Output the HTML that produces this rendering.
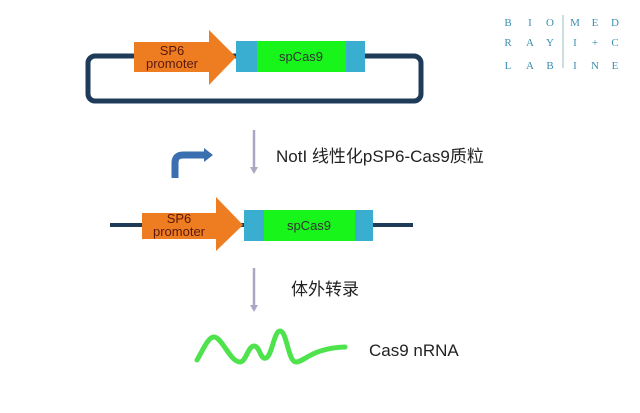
<!DOCTYPE html>
<html><head><meta charset="utf-8"><style>
body{margin:0;background:#fff;}
svg{display:block}
</style></head><body>
<svg width="640" height="413" viewBox="0 0 640 413" xmlns="http://www.w3.org/2000/svg">
<rect width="640" height="413" fill="#fff"/>
<rect x="88" y="56" width="333" height="45" rx="7" fill="none" stroke="#1f3b5a" stroke-width="5"/>
<polygon points="134,42 209,42 209,30 236,57 209,85 209,72 134,72" fill="#ee7d22"/>
<text x="172" y="55" font-family="Liberation Sans, sans-serif" font-size="13" fill="#5a1a10" text-anchor="middle">SP6</text>
<text x="172" y="68" font-family="Liberation Sans, sans-serif" font-size="13" fill="#5a1a10" text-anchor="middle">promoter</text>
<rect x="236" y="41" width="21" height="31" fill="#3aaed0"/>
<rect x="257" y="41" width="89" height="31" fill="#17f51b"/>
<rect x="346" y="41" width="19" height="31" fill="#3aaed0"/>
<text x="301" y="61" font-family="Liberation Sans, sans-serif" font-size="13" fill="#333" text-anchor="middle">spCas9</text>
<g font-family="Liberation Serif, serif" font-size="11" fill="#3a8fb0" text-anchor="middle">
<text x="508" y="26">B</text><text x="530" y="26">I</text><text x="550" y="26">O</text>
<text x="575" y="26">M</text><text x="595" y="26">E</text><text x="615" y="26">D</text>
<text x="508" y="46">R</text><text x="530" y="46">A</text><text x="550" y="46">Y</text>
<text x="575" y="46">I</text><text x="595" y="46">+</text><text x="615" y="46">C</text>
<text x="508" y="69">L</text><text x="530" y="69">A</text><text x="550" y="69">B</text>
<text x="575" y="69">I</text><text x="595" y="69">N</text><text x="615" y="69">E</text>
</g>
<line x1="563" y1="15" x2="563" y2="68" stroke="#9bb" stroke-width="1"/>
<line x1="254" y1="130" x2="254" y2="168" stroke="#a9a8c4" stroke-width="2.5"/>
<polygon points="250,167 258,167 254,174" fill="#a9a8c4"/>
<text x="276" y="162" font-family="Liberation Sans, 'Noto Sans CJK SC', sans-serif" font-size="17" fill="#222">NotI 线性化pSP6-Cas9质粒</text>
<path d="M175,178 L175,163 Q175,155 183,155 L206,155" fill="none" stroke="#3a6fb0" stroke-width="7"/>
<polygon points="204,148 213,155 204,162" fill="#3a6fb0"/>
<line x1="110" y1="225" x2="413" y2="225" stroke="#1f3b5a" stroke-width="4"/>
<polygon points="142,213 216,213 216,197 243,225 216,251 216,239 142,239" fill="#ee7d22"/>
<text x="179" y="223" font-family="Liberation Sans, sans-serif" font-size="13" fill="#5a1a10" text-anchor="middle">SP6</text>
<text x="179" y="236" font-family="Liberation Sans, sans-serif" font-size="13" fill="#5a1a10" text-anchor="middle">promoter</text>
<rect x="244" y="210" width="20" height="31" fill="#3aaed0"/>
<rect x="264" y="210" width="91" height="31" fill="#17f51b"/>
<rect x="355" y="210" width="18" height="31" fill="#3aaed0"/>
<text x="309" y="230" font-family="Liberation Sans, sans-serif" font-size="13" fill="#333" text-anchor="middle">spCas9</text>
<line x1="254" y1="268" x2="254" y2="306" stroke="#a9a8c4" stroke-width="2.5"/>
<polygon points="250,305 258,305 254,312" fill="#a9a8c4"/>
<text x="291" y="295" font-family="Liberation Sans, 'Noto Sans CJK SC', sans-serif" font-size="17" fill="#222">体外转录</text>
<path d="M197,360 C203,350 208,337 214,337 C222,337 230,362 240,362 C246,362 248,346 254,346 C260,346 260,360 266,358 C272,356 274,331 280,331 C287,331 288,362 296,362 C304,362 312,348 345,347" fill="none" stroke="#3be03a" stroke-width="5" stroke-linecap="round" opacity="0.9"/>
<text x="369" y="356" font-family="Liberation Sans, sans-serif" font-size="17" fill="#222">Cas9 nRNA</text>
</svg>
</body></html>
